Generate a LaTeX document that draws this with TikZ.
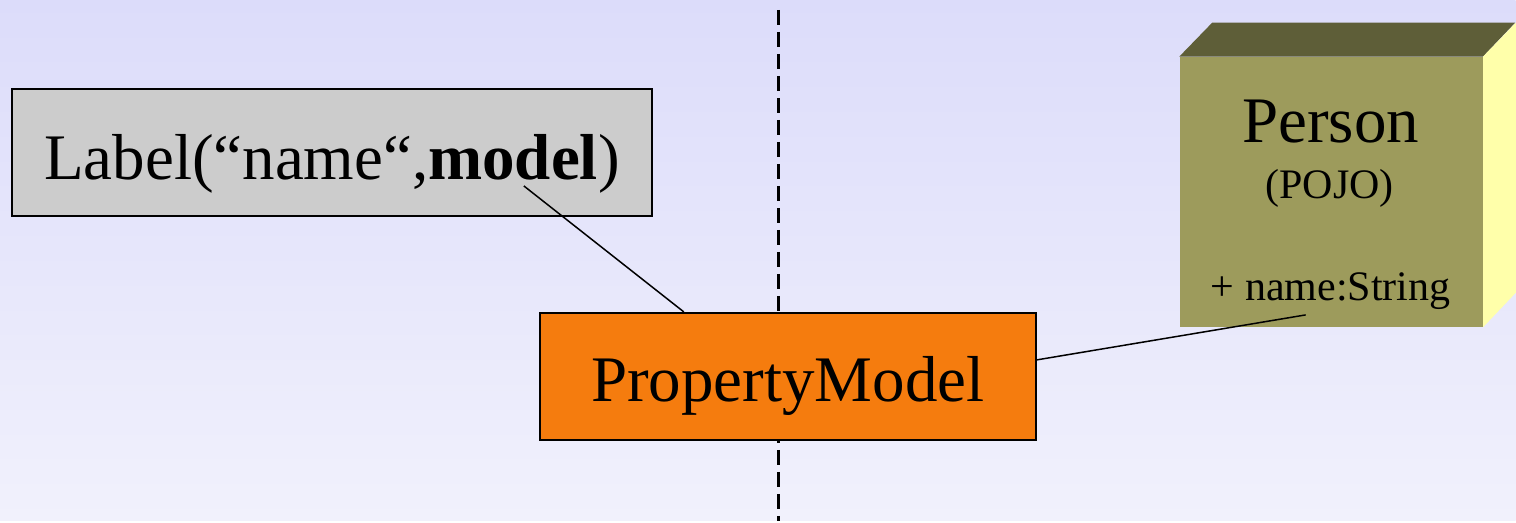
\documentclass[tikz,border=0pt]{standalone}
\usepackage{fontspec}
\setmainfont{Liberation Serif}
\usetikzlibrary{positioning,calc}

\definecolor{bgtop}{RGB}{220,220,250}
\definecolor{bgbottom}{RGB}{241,241,252}
\definecolor{labelgray}{RGB}{204,204,204}
\definecolor{modelorange}{RGB}{245,124,14}
\definecolor{pojofront}{RGB}{157,155,92}
\definecolor{pojotop}{RGB}{94,94,56}
\definecolor{pojoside}{RGB}{255,255,170}

\tikzset{
  bigtext/.style={font=\fontsize{32.5}{38}\selectfont},
  smalltext/.style={font=\fontsize{21}{25}\selectfont},
  widget/.style={draw=black, line width=1pt, fill=labelgray, inner sep=0pt, bigtext,
  	text height=27pt, text depth=0pt},
  modelbox/.style={widget, fill=modelorange, text height=25.5pt},
  link/.style={line width=0.75pt}
}

\begin{document}
\begin{tikzpicture}[x=0.5pt, y=-0.5pt]
      % backdrop and the tier border
      \shade[top color=bgtop, bottom color=bgbottom] (0,0) rectangle (1516,521);
      \draw[line width=1.5pt, dash pattern=on 7.5pt off 3.5pt] (779,10) -- (779,521);

      \node[widget, minimum width=320pt, minimum height=63.5pt] (label) at (332,152.5)
      	{Label(“name“,\textbf{model})};
      \node[modelbox, minimum width=248pt, minimum height=63.5pt] (pm) at (788,376.5) {PropertyModel};

      % the POJO as a box seen from the front
      \node[fill=pojofront, inner sep=0pt, minimum width=151.5pt, minimum height=135pt] (person) at (1331.5,192) {};
      \fill[pojotop] (person.north west) -- ++(33,-34) -- ++(303,0) -- (person.north east) -- cycle;
      \fill[pojoside] (person.north east) -- ++(33,-34) -- ++(0,270) -- (person.south east) -- cycle;
      \node[bigtext, anchor=base] (ptitle) at (1331,143) {Person};
      \node[smalltext, anchor=base] (pkind) at (1330,199) {(POJO)};
      \node[smalltext, anchor=base] (pattr) at (1331,301) {+ name:String};

      \coordinate (modelpin) at (524,186);
      \coordinate (pmtop) at ([xshift=-52pt]pm.north);
      \coordinate (attrpin) at (1306,315);
      \draw[link] (modelpin) -- (pmtop);
      \draw[link] ([yshift=8.25pt]pm.east) -- (attrpin);
    \end{tikzpicture}
\end{document}
